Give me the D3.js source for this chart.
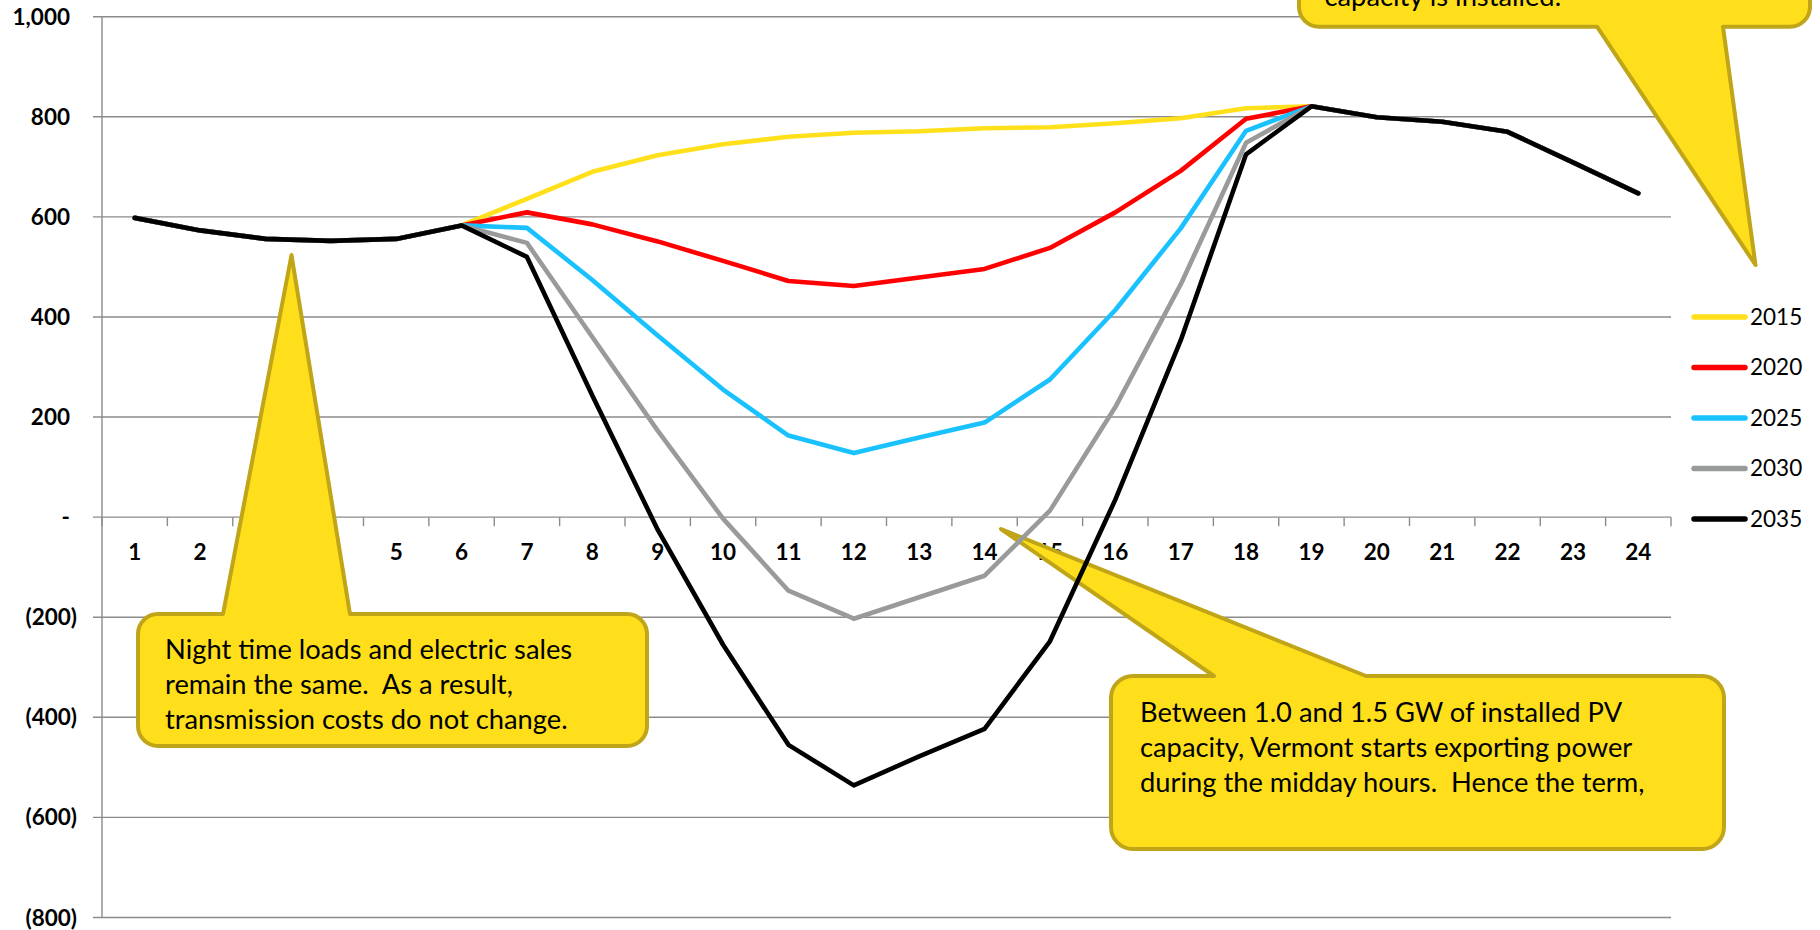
<!DOCTYPE html>
<html><head><meta charset="utf-8">
<script src="https://cdn.jsdelivr.net/npm/d3@7/dist/d3.min.js"></script>
<style>html,body{margin:0;padding:0;background:#fff;} svg{display:block;} .note{white-space:pre;}</style>
</head><body>
<svg id="chart" width="1820" height="930"></svg>
<script>
// ---------------- DATA ----------------
const hours = [1,2,3,4,5,6,7,8,9,10,11,12,13,14,15,16,17,18,19,20,21,22,23,24];
const seriesNames = ["2015","2020","2025","2030","2035"];
const s2015 = [598,573,556,552,556,583,636,690,723,745,760,768,771,777,779,787,797,817,821,799,790,770,709,647];
const s2020 = [598,573,556,552,556,583,609,585,551,512,472,462,479,496,538,609,692,796,821,799,790,770,709,647];
const s2025 = [598,573,556,552,556,583,578,474,363,255,163,128,159,189,275,414,577,772,821,799,790,770,709,647];
const s2030 = [598,573,556,552,556,583,548,360,173,-3,-147,-203,-160,-117,13,220,465,748,821,799,790,770,709,647];
const s2035 = [598,573,556,552,556,583,520,243,-25,-255,-455,-536,-478,-423,-248,35,353,725,821,799,790,770,709,647];
const seriesValues = [s2015, s2020, s2025, s2030, s2035];
const yTickValues = [-800,-600,-400,-200,0,200,400,600,800,1000];
const note1Lines = ["Night time loads and electric sales","remain the same.  As a result,","transmission costs do not change."];
const note2Lines = ["Between 1.0 and 1.5 GW of installed PV","capacity, Vermont starts exporting power","during the midday hours.  Hence the term,"];
const note3Lines = ["capacity is installed."];

// ---------------- STYLE / LAYOUT ----------------
const seriesColors = ["#FFE01A","#FF0000","#19C2FF","#999A9A","#000000"];
const gridColor = "#8B8B8B";
const calloutFill = "#FFDF1C";
const calloutStroke = "#BFA517";
const font = "Lato, 'Open Sans', sans-serif";
const plot = {left:102, right:1671, top:16.7, bottom:917.5};

const svg = d3.select("#chart");
const x = d3.scaleBand().domain(hours).range([plot.left, plot.right]).padding(0);
const y = d3.scaleLinear().domain([-800, 1000]).range([plot.bottom, plot.top]);
const cx = h => x(h) + x.bandwidth()/2;

// gridlines (with outside tick)
const gGrid = svg.append("g");
gGrid.selectAll("line.grid").data(yTickValues).join("line")
  .attr("class","grid")
  .attr("x1", plot.left - 9).attr("x2", plot.right)
  .attr("y1", d => y(d)).attr("y2", d => y(d))
  .attr("stroke", gridColor).attr("stroke-width", 1.4);
// value axis line
gGrid.append("line")
  .attr("x1", plot.left).attr("x2", plot.left)
  .attr("y1", y(1000)).attr("y2", y(-800))
  .attr("stroke", gridColor).attr("stroke-width", 1.4);
// category axis ticks at band boundaries
const boundaries = hours.map(h => x(h)).concat([x(hours[hours.length-1]) + x.bandwidth()]);
gGrid.selectAll("line.xtick").data(boundaries).join("line")
  .attr("class","xtick")
  .attr("x1", d => d).attr("x2", d => d)
  .attr("y1", y(0)).attr("y2", y(0) + 9)
  .attr("stroke", gridColor).attr("stroke-width", 1.4);

// y labels
const fmtY = d => d === 0 ? "-" : d < 0 ? "(" + d3.format(",")(-d) + ")" : d3.format(",")(d);
svg.append("g").selectAll("text").data(yTickValues).join("text")
  .attr("x", d => d < 0 ? 77 : 70)
  .attr("y", d => y(d) + 8)
  .attr("text-anchor", "end")
  .attr("font-family", font).attr("font-weight", "bold").attr("font-size", 22.5)
  .attr("fill", "#000")
  .text(fmtY);

// x labels
svg.append("g").selectAll("text").data(hours).join("text")
  .attr("x", d => cx(d))
  .attr("y", y(0) + 43)
  .attr("text-anchor", "middle")
  .attr("font-family", font).attr("font-weight", "bold").attr("font-size", 22.5)
  .attr("fill", "#000")
  .text(d => d);

// ---------------- CALLOUTS ----------------
function calloutPath(b, w) {
  const {x0, y0, x1, y1, r} = b;
  const p = d3.path();
  p.moveTo(x0 + r, y0);
  if (w.side === "top") { p.lineTo(w.a, y0); p.lineTo(w.tx, w.ty); p.lineTo(w.c, y0); }
  p.lineTo(x1 - r, y0);
  p.arcTo(x1, y0, x1, y0 + r, r);
  p.lineTo(x1, y1 - r);
  p.arcTo(x1, y1, x1 - r, y1, r);
  if (w.side === "bottom") { p.lineTo(w.c, y1); p.lineTo(w.tx, w.ty); p.lineTo(w.a, y1); }
  p.lineTo(x0 + r, y1);
  p.arcTo(x0, y1, x0, y1 - r, r);
  p.lineTo(x0, y0 + r);
  p.arcTo(x0, y0, x0 + r, y0, r);
  p.closePath();
  return p.toString();
}
const callouts = [
  {box:{x0:138, y0:614, x1:647, y1:746, r:20}, wedge:{side:"top", a:223, c:350, tx:291.5, ty:255},
   lines: note1Lines, tx:165, ty:658.5},
  {box:{x0:1111, y0:676, x1:1724, y1:849, r:22}, wedge:{side:"top", a:1214, c:1366, tx:1001, ty:529},
   lines: note2Lines, tx:1140, ty:721.5},
  {box:{x0:1299, y0:-120, x1:1810, y1:26.7, r:20}, wedge:{side:"bottom", a:1597, c:1723, tx:1755.5, ty:265},
   lines: note3Lines, tx:1324.5, ty:5.5}
];
const gC = svg.append("g");
callouts.forEach(c => {
  gC.append("path").attr("d", calloutPath(c.box, c.wedge))
    .attr("fill", calloutFill).attr("stroke", calloutStroke).attr("stroke-width", 4)
    .attr("stroke-linejoin", "round");
  const t = gC.append("text").attr("class", "note").attr("xml:space", "preserve")
    .attr("font-family", font).attr("font-size", 27.3).attr("fill", "#000");
  c.lines.forEach((ln, i) => {
    t.append("tspan").attr("x", c.tx).attr("y", c.ty + i * 35).text(ln);
  });
});

// ---------------- LINES ----------------
const line = d3.line().x((d, i) => cx(hours[i])).y(d => y(d));
svg.append("g").selectAll("path").data(seriesValues).join("path")
  .attr("d", d => line(d))
  .attr("fill", "none")
  .attr("stroke", (d, i) => seriesColors[i])
  .attr("stroke-width", 4.6)
  .attr("stroke-linejoin", "round").attr("stroke-linecap", "round");

// ---------------- LEGEND ----------------
const gL = svg.append("g");
seriesNames.forEach((n, i) => {
  const ly = y(400) + i * 50.5;
  gL.append("line").attr("x1", 1694).attr("x2", 1745).attr("y1", ly).attr("y2", ly)
    .attr("stroke", seriesColors[i]).attr("stroke-width", 5.5).attr("stroke-linecap", "round");
  gL.append("text").attr("x", 1750).attr("y", ly + 8)
    .attr("font-family", font).attr("font-size", 22.5).attr("fill", "#000").text(n);
});
</script>
</body></html>
